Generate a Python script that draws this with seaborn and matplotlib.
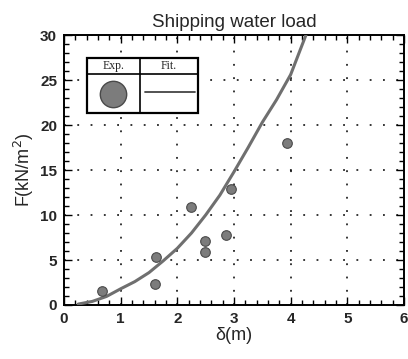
import matplotlib
matplotlib.use("Agg")
import matplotlib.pyplot as plt
from matplotlib.ticker import MultipleLocator
import pandas as pd
import seaborn as sns

# Measured shipping water load vs. freeboard exceedance
delta_exp = [0.67, 1.60, 1.63, 2.24, 2.49, 2.49, 2.85, 2.94, 3.93]
load_exp = [1.6, 2.3, 5.3, 10.9, 7.1, 5.9, 7.75, 12.9, 18.0]

# Fitted curve
delta_fit = [0.25, 0.5, 0.75, 1.0, 1.25, 1.5, 1.75, 2.0, 2.25, 2.5, 2.75,
             3.0, 3.25, 3.5, 3.75, 4.0, 4.27]
load_fit = [0.1, 0.4, 0.95, 1.8, 2.6, 3.6, 4.9, 6.3, 8.0, 10.0, 12.2,
            14.8, 17.5, 20.3, 22.8, 25.6, 30.0]

x_ticks = [0, 1, 2, 3, 4, 5, 6]
y_ticks = [0, 5, 10, 15, 20, 25, 30]

sns.set_theme(style="ticks")
plt.rcParams["font.family"] = ["Liberation Sans", "DejaVu Sans"]

exp_df = pd.DataFrame({"delta": delta_exp, "F": load_exp})
fit_df = pd.DataFrame({"delta": delta_fit, "F": load_fit})

fig = plt.figure(figsize=(4.08, 3.59), dpi=100)
ax = fig.add_axes([64 / 408, 1 - 305 / 359, 340 / 408, 270 / 359])

sns.lineplot(data=fit_df, x="delta", y="F", ax=ax, color="#6f6f6f",
             linewidth=2.2, sort=False, zorder=3)
sns.scatterplot(data=exp_df, x="delta", y="F", ax=ax, s=48,
                color="#7c7c7c", edgecolor="#4a4a4a", linewidth=0.8,
                zorder=4)

ax.set_xlim(0, 6)
ax.set_ylim(0, 30)
ax.set_xticks(x_ticks)
ax.set_yticks(y_ticks)
ax.xaxis.set_minor_locator(MultipleLocator(0.2))
ax.yaxis.set_minor_locator(MultipleLocator(1))
ax.tick_params(which="both", direction="in", top=True, right=True,
               color="black", width=1.0)
ax.tick_params(which="major", length=6, labelsize=11, pad=5)
ax.tick_params(which="minor", length=3.5)
for lab in ax.get_xticklabels() + ax.get_yticklabels():
    lab.set_fontweight("bold")

ax.grid(True, which="major", color="black", linestyle=(0, (1.2, 7.5)),
        linewidth=1.1)
for sp in ax.spines.values():
    sp.set_color("black")
    sp.set_linewidth(1.4)

ax.set_title("Shipping water load", fontsize=13.5, pad=6)
ax.set_xlabel("δ(m)", fontsize=13, labelpad=1)
ax.set_ylabel("F(kN/m$^2$)", fontsize=13, labelpad=3)

# Table-style legend box in the upper left
tr = ax.transAxes
box_l, box_r, box_b, box_t = 0.067, 0.395, 0.710, 0.914
head_y, div_x = 0.856, 0.2235
ax.add_patch(plt.Rectangle((box_l, box_b), box_r - box_l, box_t - box_b,
                           transform=tr, facecolor="white",
                           edgecolor="black", linewidth=1.6, zorder=5))
ax.plot([box_l, box_r], [head_y, head_y], transform=tr, color="black",
        linewidth=1.2, zorder=6)
ax.plot([div_x, div_x], [box_b, box_t], transform=tr, color="black",
        linewidth=1.2, zorder=6)
ax.text((box_l + div_x) / 2, (head_y + box_t) / 2, "Exp.", transform=tr,
        ha="center", va="center", fontsize=8.5, family="Liberation Serif",
        zorder=7)
ax.text((div_x + box_r) / 2, (head_y + box_t) / 2, "Fit.", transform=tr,
        ha="center", va="center", fontsize=8.5, family="Liberation Serif",
        zorder=7)
ax.plot([(box_l + div_x) / 2], [(box_b + head_y) / 2], "o", transform=tr,
        markersize=19, color="#7c7c7c", markeredgecolor="#4a4a4a",
        markeredgewidth=1.0, zorder=7)
ax.plot([0.238, 0.385], [0.790, 0.790], transform=tr, color="#444444",
        linewidth=1.3, zorder=7)

fig.savefig("out.png", dpi=100)
